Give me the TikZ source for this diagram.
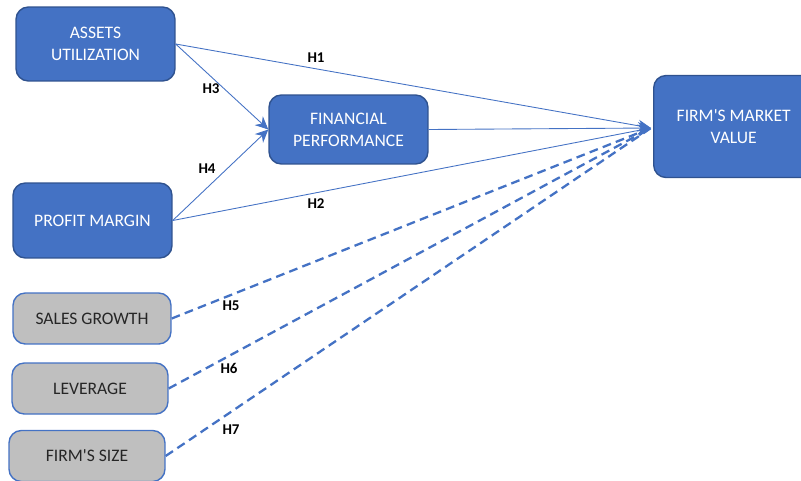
\documentclass[tikz,border=0pt]{standalone}
\usepackage{fontspec}
\setmainfont{Carlito}
\usetikzlibrary{arrows.meta,positioning}
\definecolor{officeblue}{RGB}{68,114,196}
\definecolor{officeblueD}{RGB}{47,82,143}
\definecolor{ctrlgray}{RGB}{191,191,191}
\tikzset{
  varbox/.style={rectangle, rounded corners=7pt, draw=officeblueD, fill=officeblue,
                 line width=0.8pt, text=white, align=center, font=\fontsize{10}{12.5}\selectfont,
                 inner sep=0pt},
  ctrlbox/.style={rectangle, rounded corners=7pt, draw=officeblue, fill=ctrlgray,
                  line width=0.8pt, text=black!85, align=center, font=\fontsize{10}{12.5}\selectfont,
                  inner sep=0pt},
  hyp/.style ={-{Stealth[length=2.6mm,width=2.4mm]}, line width=0.5pt, officeblue},
  hypctrl/.style={line width=1.3pt, officeblue, dash pattern=on 5pt off 3pt},
  hlabel/.style={font=\bfseries\fontsize{8.5}{10}\selectfont, text=black},
}
\begin{document}
\begin{tikzpicture}[x=0.02cm,y=-0.02cm]
  \useasboundingbox (0,0) rectangle (801,480);
  % main constructs
  \node[varbox, minimum width=3.18cm, minimum height=1.48cm] (AU) at (95.5,44) {ASSETS\\UTILIZATION};
  \node[varbox, minimum width=3.18cm, minimum height=1.50cm] (PM) at (92.5,220.5) {PROFIT MARGIN};
  \node[varbox, minimum width=3.18cm, minimum height=1.38cm] (FP) at (348.5,129.5) {FINANCIAL\\PERFORMANCE};
  \node[varbox, minimum width=3.2cm, minimum height=2.04cm, anchor=west] (MV) at (653,126.5) {FIRM\textquotesingle S MARKET\\VALUE};
  % control variables
  \node[ctrlbox, minimum width=3.16cm, minimum height=1.02cm] (SG) at (92,318.5) {SALES GROWTH};
  \node[ctrlbox, minimum width=3.12cm, minimum height=1.02cm] (LV) at (90,388.5) {LEVERAGE};
  \node[ctrlbox, minimum width=3.12cm, minimum height=1.02cm] (FS) at (87,456) {FIRM\textquotesingle S SIZE};
  \coordinate (tgt) at (651,128);
  % hypotheses
  \draw[hyp] (AU.east) -- (tgt);
  \draw[hyp] (AU.east) -- (FP.west);
  \draw[hyp] (PM.east) -- (FP.west);
  \draw[hyp] (PM.east) -- (tgt);
  \draw[hyp] (FP.east) -- (tgt);
  \foreach \c in {SG,LV,FS} {\draw[hypctrl] (\c.east) -- (tgt);}
  \node[hlabel] (h1) at (316,58) {H1};
  \node[hlabel] (h2) at (316,204) {H2};
  \node[hlabel] (h3) at (211,89) {H3};
  \node[hlabel] (h4) at (207,169) {H4};
  \node[hlabel] (h5) at (231,306) {H5};
  \node[hlabel] (h6) at (229,368) {H6};
  \node[hlabel] (h7) at (231,430) {H7};
\end{tikzpicture}
\end{document}
